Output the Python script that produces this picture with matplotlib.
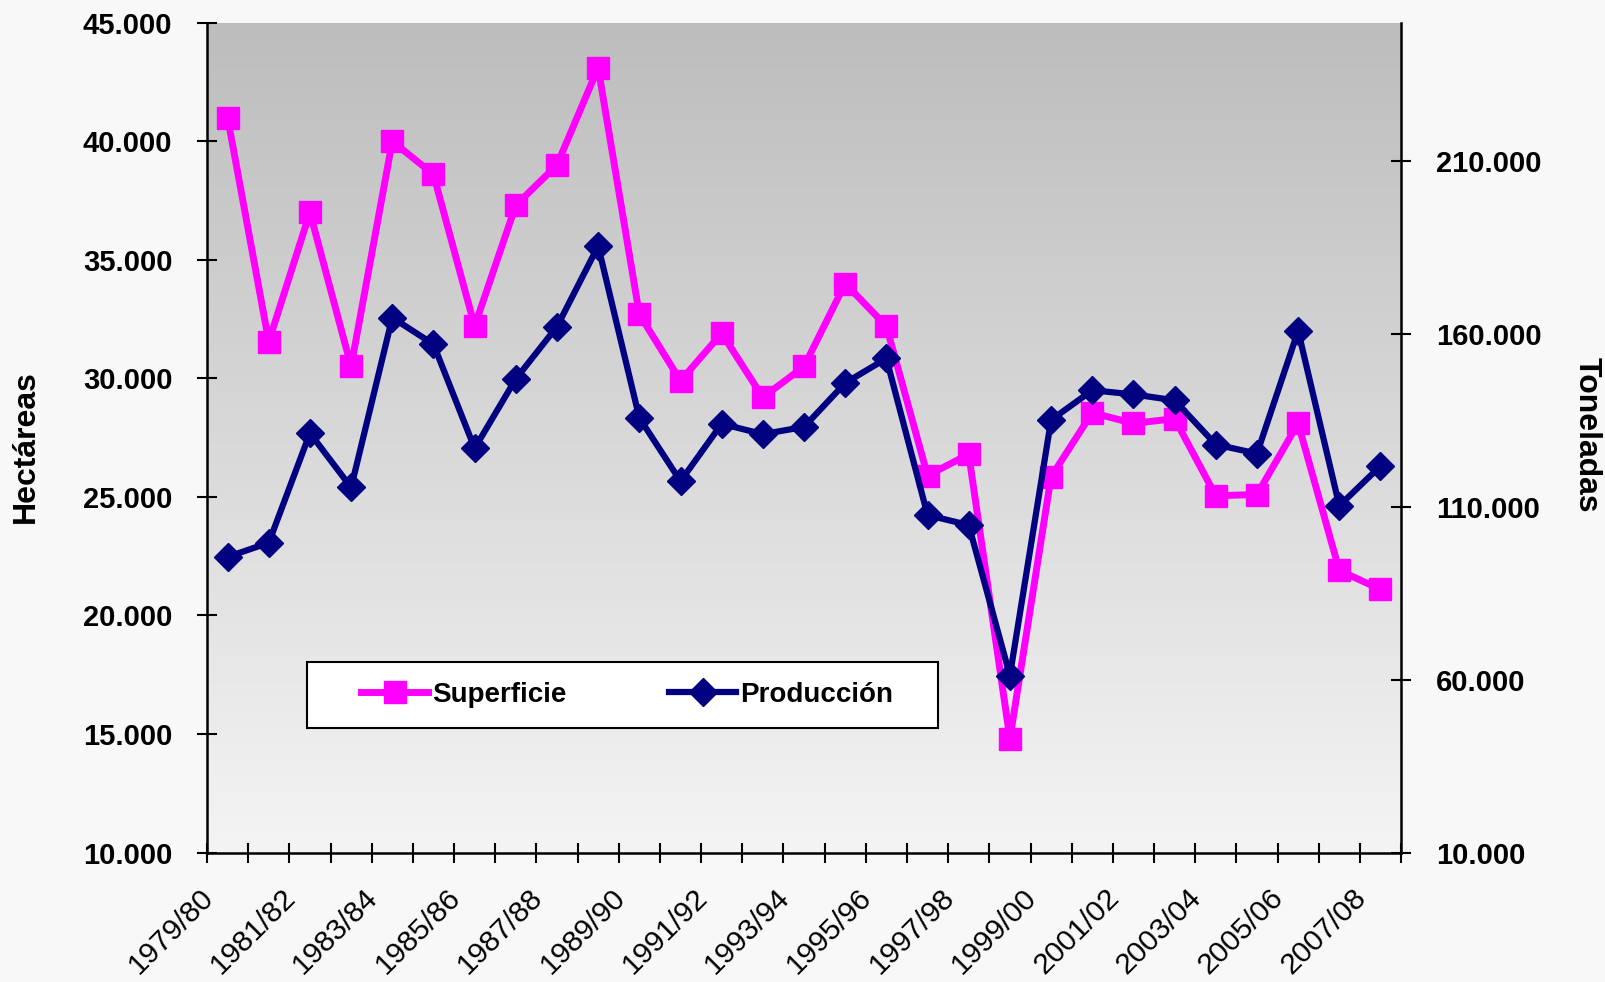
import numpy as np
import matplotlib
matplotlib.use("Agg")
import matplotlib.pyplot as plt
from matplotlib.ticker import FuncFormatter
from matplotlib.transforms import ScaledTranslation
from matplotlib.patches import Rectangle

plt.rcParams['font.family'] = ['Liberation Sans', 'DejaVu Sans']

# campañas 1979/80 .. 2007/08
campanas = ["1979/80", "1980/81", "1981/82", "1982/83", "1983/84", "1984/85",
            "1985/86", "1986/87", "1987/88", "1988/89", "1989/90", "1990/91",
            "1991/92", "1992/93", "1993/94", "1994/95", "1995/96", "1996/97",
            "1997/98", "1998/99", "1999/00", "2000/01", "2001/02", "2002/03",
            "2003/04", "2004/05", "2005/06", "2006/07", "2007/08"]

# hectáreas (eje izquierdo)
superficie = [41000, 31550, 37000, 30500, 40000, 38600, 32200, 37300, 39000,
              43100, 32700, 29900, 31900, 29200, 30500, 34000, 32200, 25900,
              26800, 14800, 25850, 28550, 28100, 28300, 25050, 25100, 28100,
              21900, 21100]

# toneladas (eje derecho)
produccion = [95500, 99600, 131300, 115600, 164700, 157000, 126900, 147000,
              162100, 185400, 135700, 117400, 134000, 131000, 133100, 145800,
              152900, 107600, 104700, 61200, 135100, 143700, 142500, 140800,
              128000, 125400, 160900, 110300, 121800]

fmt = FuncFormatter(lambda v, p: f"{v:,.0f}".replace(",", "."))
x = np.arange(len(campanas))

fig = plt.figure(figsize=(16.06, 9.82), dpi=100, facecolor="#f8f8f8")
ax = fig.add_axes([0.1289, 0.1318, 0.7435, 0.8451])
ax2 = ax.twinx()

# fondo degradado del área de trazado
grad = np.linspace(0, 1, 256).reshape(-1, 1)
ax.imshow(grad, cmap=matplotlib.colors.LinearSegmentedColormap.from_list(
    "g", ["#f4f4f4", "#bdbdbd"]), origin="lower", aspect="auto",
    extent=[0, 1, 0, 1], transform=ax.transAxes, zorder=0)

l1, = ax.plot(x, superficie, color="#ff00ff", lw=5, marker="s", ms=16,
              label="Superficie", zorder=3)
l2, = ax2.plot(x, produccion, color="#000080", lw=4.5, marker="D", ms=14,
               label="Producción", zorder=3)

ax.set_xlim(-0.5, len(campanas) - 0.5)
ax.set_ylim(10000, 45000)
ax2.set_ylim(10000, 250000)
ax.set_yticks(np.arange(10000, 45001, 5000))
ax2.set_yticks(np.arange(10000, 210001, 50000))
ax.yaxis.set_major_formatter(fmt)
ax2.yaxis.set_major_formatter(fmt)

ax.set_xticks(x[::2])
ax.set_xticklabels(campanas[::2], rotation=45, ha="right", va="top",
                   rotation_mode="anchor", fontsize=21.5)
ax.set_xticks(np.arange(-0.5, len(campanas), 1), minor=True)
ax.tick_params(axis="x", which="major", length=0, pad=22.3)
ax.tick_params(axis="x", which="minor", direction="inout", length=15, width=1.5)
shift = ScaledTranslation(-0.286, 0, fig.dpi_scale_trans)
for lab in ax.get_xticklabels():
    lab.set_transform(lab.get_transform() + shift)

for a in (ax, ax2):
    a.tick_params(axis="y", direction="inout", length=14, width=1.5,
                  labelsize=21, pad=18)
    for lab in a.get_yticklabels():
        lab.set_fontweight("bold")
    a.spines["top"].set_visible(False)
    for s in a.spines.values():
        s.set_linewidth(1.8)
ax.spines["right"].set_visible(False)
ax2.spines["left"].set_visible(False)
ax2.spines["bottom"].set_visible(False)

fig.text(0.016, 0.545, "Hectáreas", rotation=90, fontsize=23,
         fontweight="bold", ha="center", va="center")
fig.text(0.988, 0.557, "Toneladas", rotation=-90, fontsize=23,
         fontweight="bold", ha="center", va="center")

# recuadro de la leyenda
box = (0.0837, 0.1497, 0.5286, 0.0802)
ax2.add_patch(Rectangle(box[:2], box[2], box[3], transform=ax.transAxes,
                        facecolor="white", edgecolor="black", lw=1.5,
                        zorder=9))
leg = ax2.legend(handles=[l1, l2], loc="center", ncol=2, frameon=False,
                 bbox_to_anchor=(box[0] + box[2] / 2 + 0.004,
                                 box[1] + box[3] / 2),
                 bbox_transform=ax.transAxes,
                 prop={"weight": "bold", "size": 20}, handlelength=2.4,
                 handletextpad=0.15, columnspacing=3.7)
leg.set_zorder(10)

fig.savefig("out.png", dpi=100, facecolor=fig.get_facecolor())
